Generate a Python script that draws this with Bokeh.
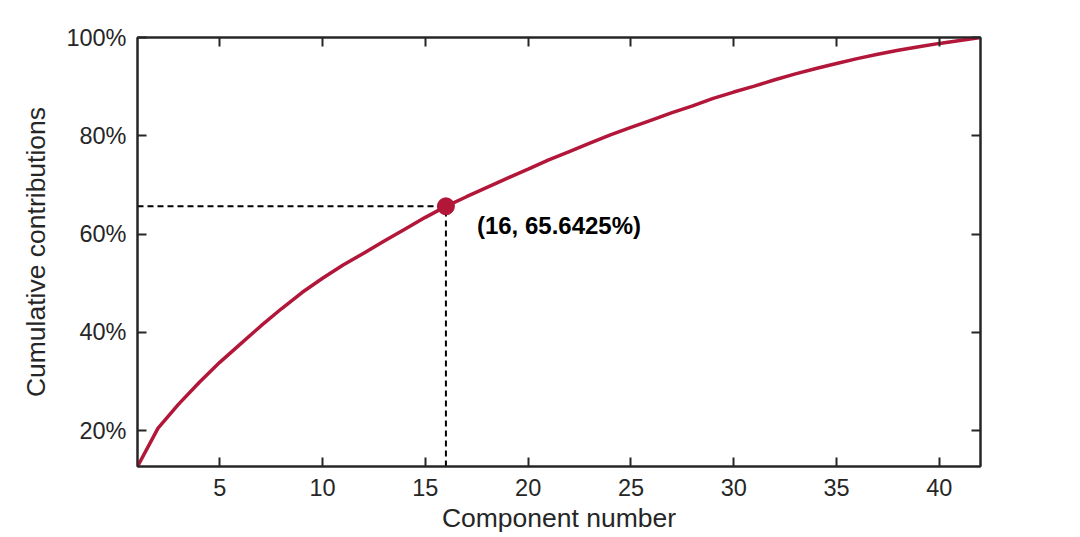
from bokeh.plotting import figure
from bokeh.models import Range1d, LinearAxis, FixedTicker, PrintfTickFormatter, Label
from bokeh.embed import file_html
from bokeh.resources import INLINE

# Data
components = list(range(1, 43))
cumulative = [12.7, 20.5, 25.4, 29.8, 33.9, 37.6, 41.3, 44.8, 48.1, 51.0,
              53.7, 56.1, 58.6, 61.0, 63.4, 65.6425, 67.6, 69.5, 71.4, 73.2,
              75.1, 76.8, 78.5, 80.2, 81.7, 83.2, 84.7, 86.1, 87.6, 88.9,
              90.1, 91.4, 92.6, 93.7, 94.7, 95.7, 96.6, 97.4, 98.1, 98.8,
              99.4, 100.0]
sel_x = 16
sel_y = 65.6425
x_ticks = [5, 10, 15, 20, 25, 30, 35, 40]
y_ticks = [20, 40, 60, 80, 100]
x_label = "Component number"
y_label = "Cumulative contributions"
ann_text = "(16, 65.6425%)"

LINE_COLOR = "#B2173A"
AXIS_COLOR = "#262626"
FONT = "Liberation Sans"

p = figure(width=1072, height=535, output_backend="svg", toolbar_location=None,
           x_range=Range1d(1, 42), y_range=Range1d(cumulative[0], 100),
           min_border_left=137, min_border_right=92, min_border_top=37, min_border_bottom=69,
           background_fill_color="white", border_fill_color="white")
p.grid.visible = False
p.outline_line_color = AXIS_COLOR
p.outline_line_width = 2

def style_axis(ax):
    ax.axis_line_color = AXIS_COLOR
    ax.axis_line_width = 2
    ax.major_tick_line_color = AXIS_COLOR
    ax.major_tick_line_width = 2
    ax.major_tick_in = 9
    ax.major_tick_out = 0
    ax.minor_tick_line_color = None
    ax.major_label_text_font = FONT
    ax.major_label_text_font_size = "23.5px"
    ax.major_label_text_color = AXIS_COLOR
    ax.axis_label_text_font = FONT
    ax.axis_label_text_font_size = "26.5px"
    ax.axis_label_text_font_style = "normal"
    ax.axis_label_text_color = AXIS_COLOR

p.xaxis.ticker = FixedTicker(ticks=x_ticks)
p.yaxis.ticker = FixedTicker(ticks=y_ticks)
p.yaxis.formatter = PrintfTickFormatter(format="%d%%")
p.xaxis.axis_label = x_label
p.yaxis.axis_label = y_label
style_axis(p.xaxis[0])
style_axis(p.yaxis[0])
p.xaxis.major_label_standoff = 12
p.yaxis.major_label_standoff = 11
p.xaxis.axis_label_standoff = 4
p.yaxis.axis_label_standoff = 12

top_ax = LinearAxis(ticker=FixedTicker(ticks=x_ticks))
right_ax = LinearAxis(ticker=FixedTicker(ticks=y_ticks))
style_axis(top_ax)
style_axis(right_ax)
top_ax.major_label_overrides = {t: "" for t in x_ticks}
right_ax.major_label_overrides = {t: "" for t in y_ticks}
top_ax.major_label_standoff = 0
right_ax.major_label_standoff = 0
p.add_layout(top_ax, "above")
p.add_layout(right_ax, "right")

# dashed guide lines
p.line([components[0], sel_x], [sel_y, sel_y], line_color="black", line_width=2, line_dash="6 4")
p.line([sel_x, sel_x], [cumulative[0], sel_y], line_color="black", line_width=2, line_dash="6 4")

p.line(components, cumulative, line_color=LINE_COLOR, line_width=3.5)
p.scatter([sel_x], [sel_y], size=17, fill_color=LINE_COLOR, line_color=LINE_COLOR)

lab = Label(x=sel_x, y=sel_y, text=ann_text, x_offset=31, y_offset=-19,
            text_baseline="middle", text_align="left",
            text_font=FONT, text_font_size="24px", text_font_style="bold", text_color="black")
p.add_layout(lab)

open("out.html", "w").write(file_html(p, INLINE))
